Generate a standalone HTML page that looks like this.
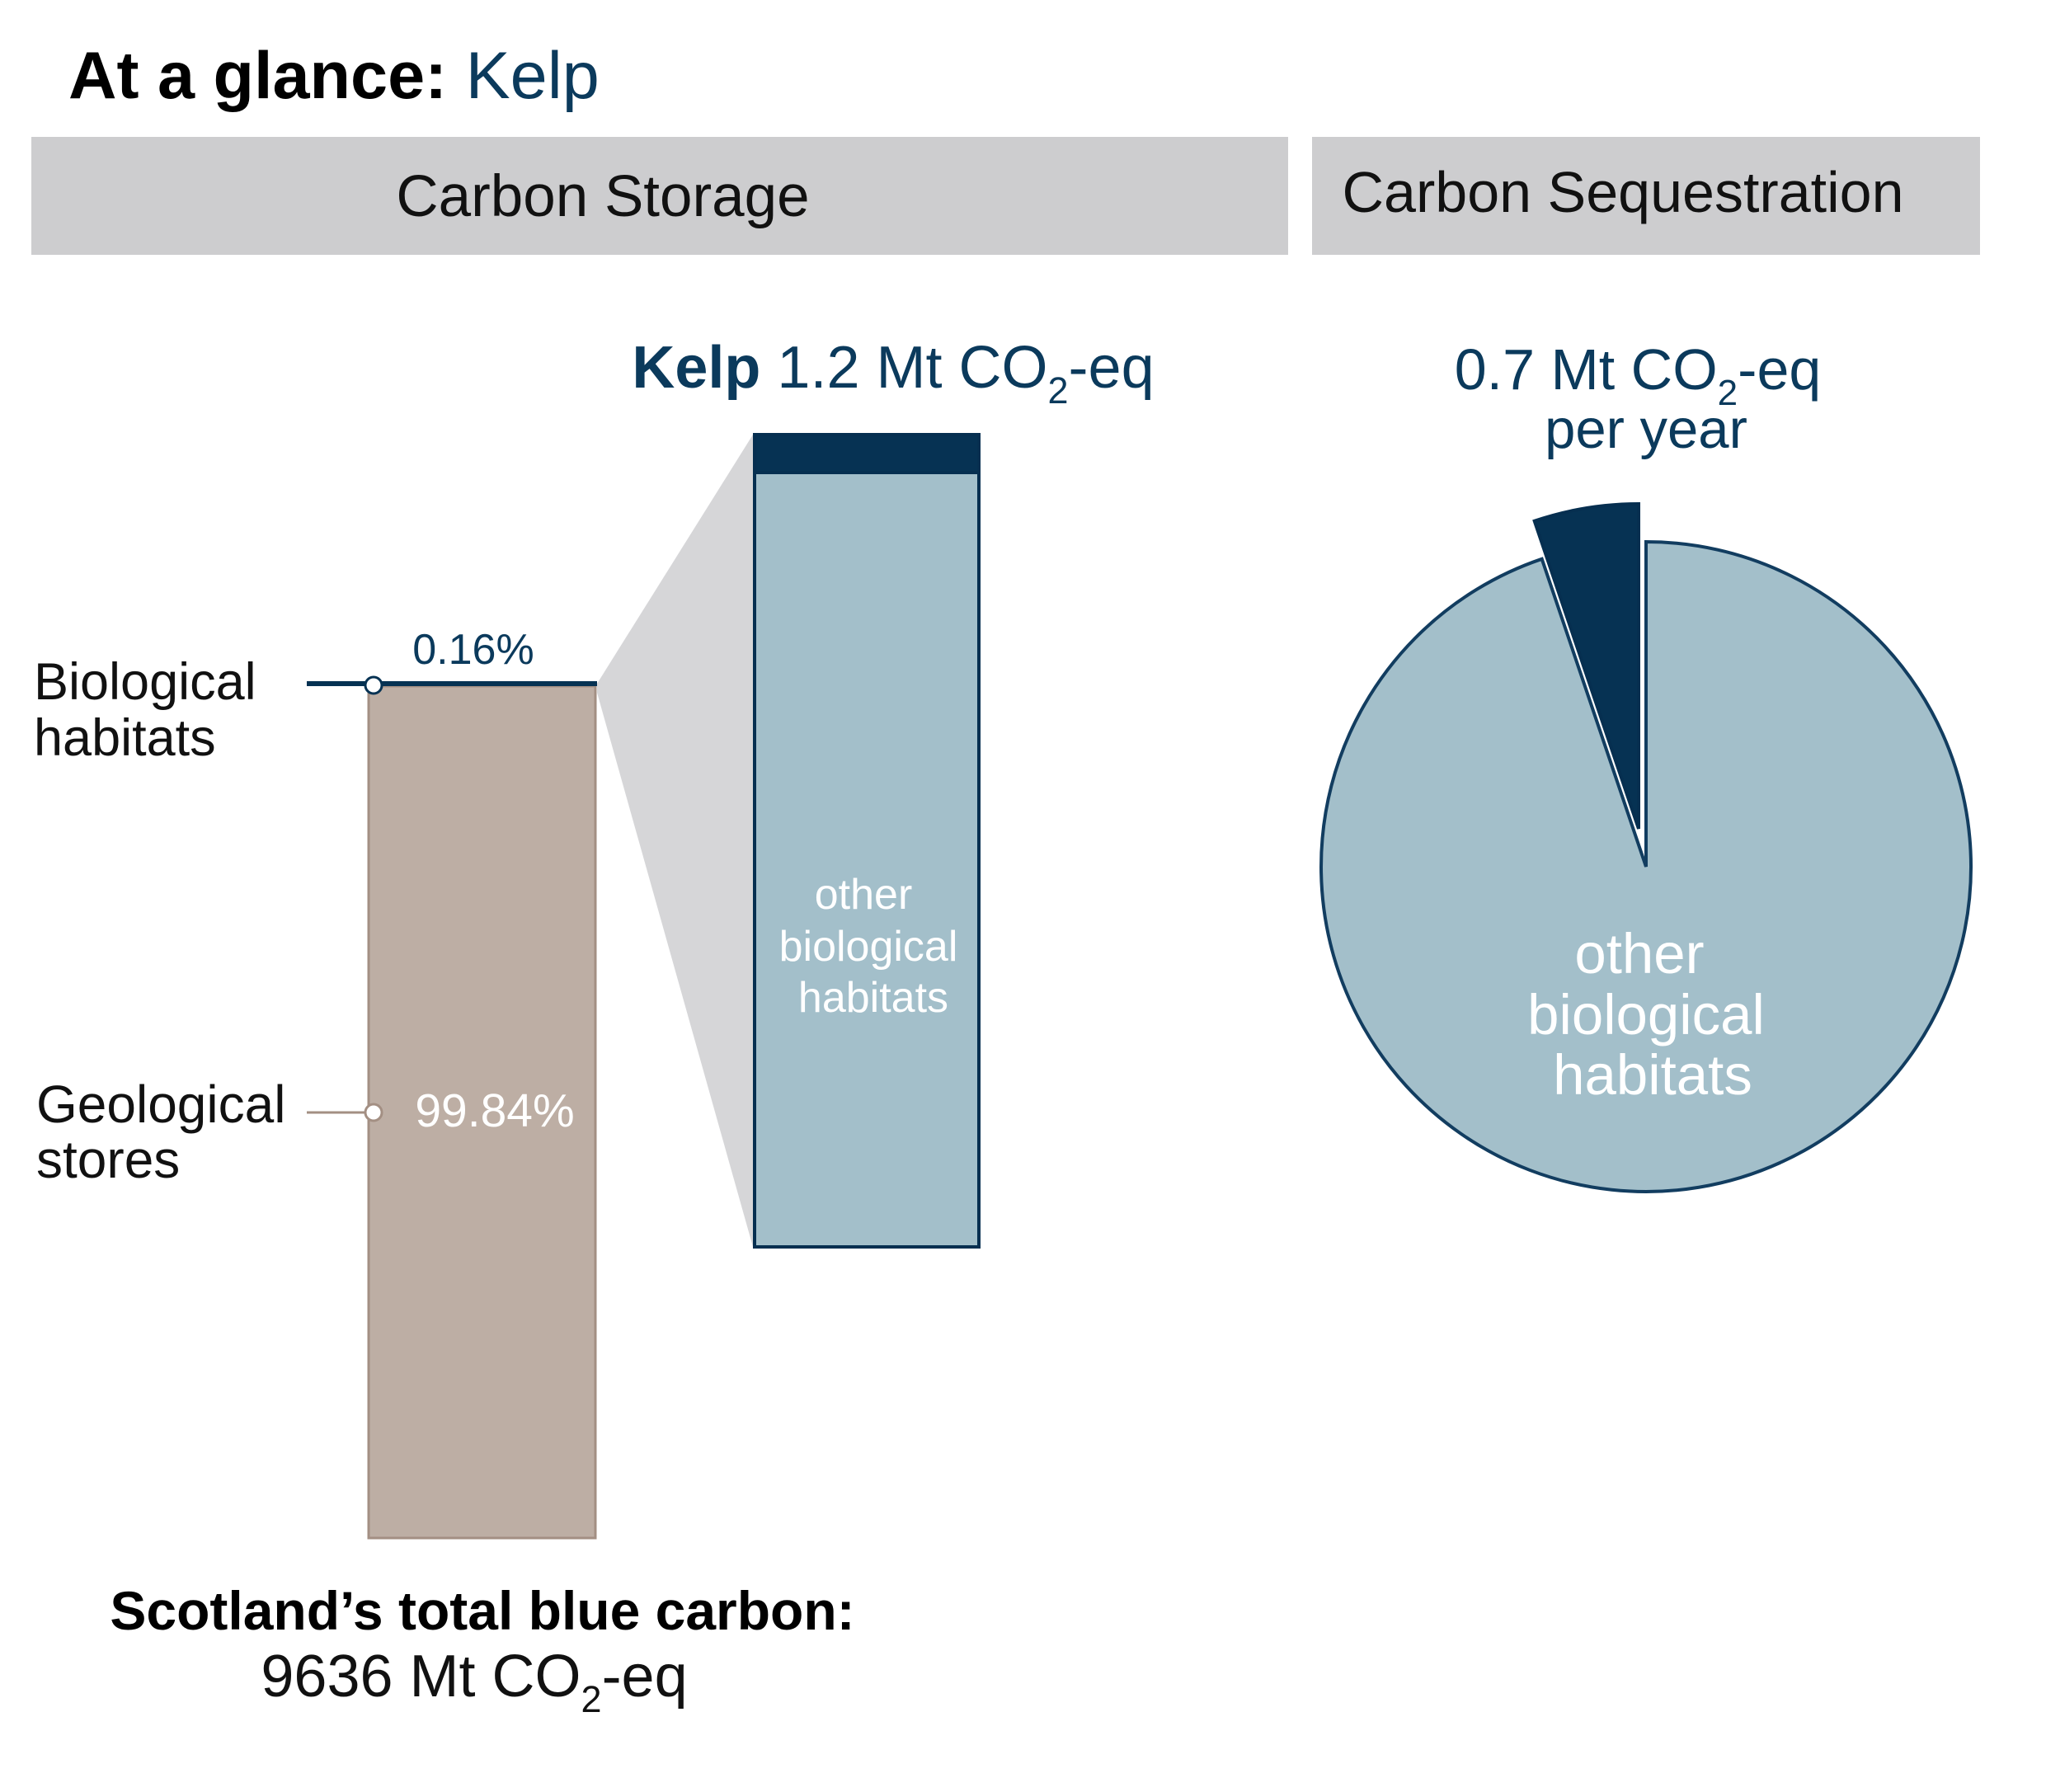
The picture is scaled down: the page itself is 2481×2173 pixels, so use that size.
<!DOCTYPE html>
<html><head><meta charset="utf-8"><style>
html,body{margin:0;padding:0;background:#fff;}
svg{display:block;}
text{font-family:"Liberation Sans",sans-serif;}
</style></head><body>
<svg width="2481" height="2173" viewBox="0 0 2481 2173" xmlns="http://www.w3.org/2000/svg">
<rect width="2481" height="2173" fill="#fff"/>
<text x="83" y="119" font-size="81" font-weight="bold" fill="#000">At a glance: <tspan font-weight="normal" fill="#0b3a5c">Kelp</tspan></text>
<rect x="38" y="166" width="1524" height="143" fill="#cdcdcf"/>
<rect x="1591" y="166" width="810" height="143" fill="#cdcdcf"/>
<text x="731" y="262" font-size="71" text-anchor="middle" fill="#111">Carbon Storage</text>
<text x="1968" y="257" font-size="70" text-anchor="middle" fill="#111">Carbon Sequestration</text>

<text x="1083" y="470" font-size="72" text-anchor="middle" fill="#0b3a5c"><tspan font-weight="bold">Kelp</tspan> 1.2 Mt CO<tspan font-size="45" dy="19">2</tspan><tspan dy="-19">-eq</tspan></text>

<polygon points="724,829 913,527 913,1512 724,840" fill="#d6d6d8"/>
<rect x="915" y="527" width="272" height="985" fill="#a3bfca" stroke="#062f50" stroke-width="4"/>
<rect x="915" y="527" width="272" height="46" fill="#063253" stroke="#062f50" stroke-width="4"/>
<text font-size="52" fill="#fff" text-anchor="middle"><tspan x="1047" y="1102">other</tspan><tspan x="1053" y="1165">biological</tspan><tspan x="1059" y="1227">habitats</tspan></text>

<rect x="447" y="832" width="275" height="1033" fill="#bdaea4" stroke="#a38f83" stroke-width="3"/>
<line x1="372" y1="829" x2="724" y2="829" stroke="#063253" stroke-width="6"/>
<line x1="372" y1="1349" x2="452" y2="1349" stroke="#a38f83" stroke-width="3"/>
<circle cx="453" cy="831" r="10" fill="#fff" stroke="#063253" stroke-width="3"/>
<circle cx="453" cy="1349" r="10" fill="#fff" stroke="#a38f83" stroke-width="3"/>
<text x="574" y="805" font-size="52" text-anchor="middle" fill="#0b3a5c">0.16%</text>
<text x="600" y="1366" font-size="57" text-anchor="middle" fill="#fff">99.84%</text>
<text font-size="63" fill="#111"><tspan x="41" y="848">Biological</tspan><tspan x="41" y="916">habitats</tspan></text>
<text font-size="64" fill="#111"><tspan x="44" y="1361">Geological</tspan><tspan x="44" y="1428">stores</tspan></text>

<text x="585" y="1976" font-size="66" font-weight="bold" text-anchor="middle" fill="#000">Scotland’s total blue carbon:</text>
<text x="575" y="2057" font-size="72" text-anchor="middle" fill="#111">9636 Mt CO<tspan font-size="45" dy="19">2</tspan><tspan dy="-19">-eq</tspan></text>

<text x="1986" y="472" font-size="70" text-anchor="middle" fill="#0b3a5c">0.7 Mt CO<tspan font-size="44" dy="19">2</tspan><tspan dy="-19">-eq</tspan></text>
<text x="1996" y="543" font-size="67" text-anchor="middle" fill="#0b3a5c">per year</text>

<path d="M1996,1051 L1996,657 A394,394 0 1 1 1869.7,677.8 Z" fill="#a3bfca" stroke="#123d60" stroke-width="4"/>
<path d="M1987,1005 L1860.7,631.8 A394,394 0 0 1 1987,611 Z" fill="#063253" stroke="#062f50" stroke-width="4"/>
<text font-size="69" fill="#fff" text-anchor="middle"><tspan x="1988" y="1180">other</tspan><tspan x="1996" y="1254">biological</tspan><tspan x="2004" y="1327">habitats</tspan></text>
</svg>
</body></html>
